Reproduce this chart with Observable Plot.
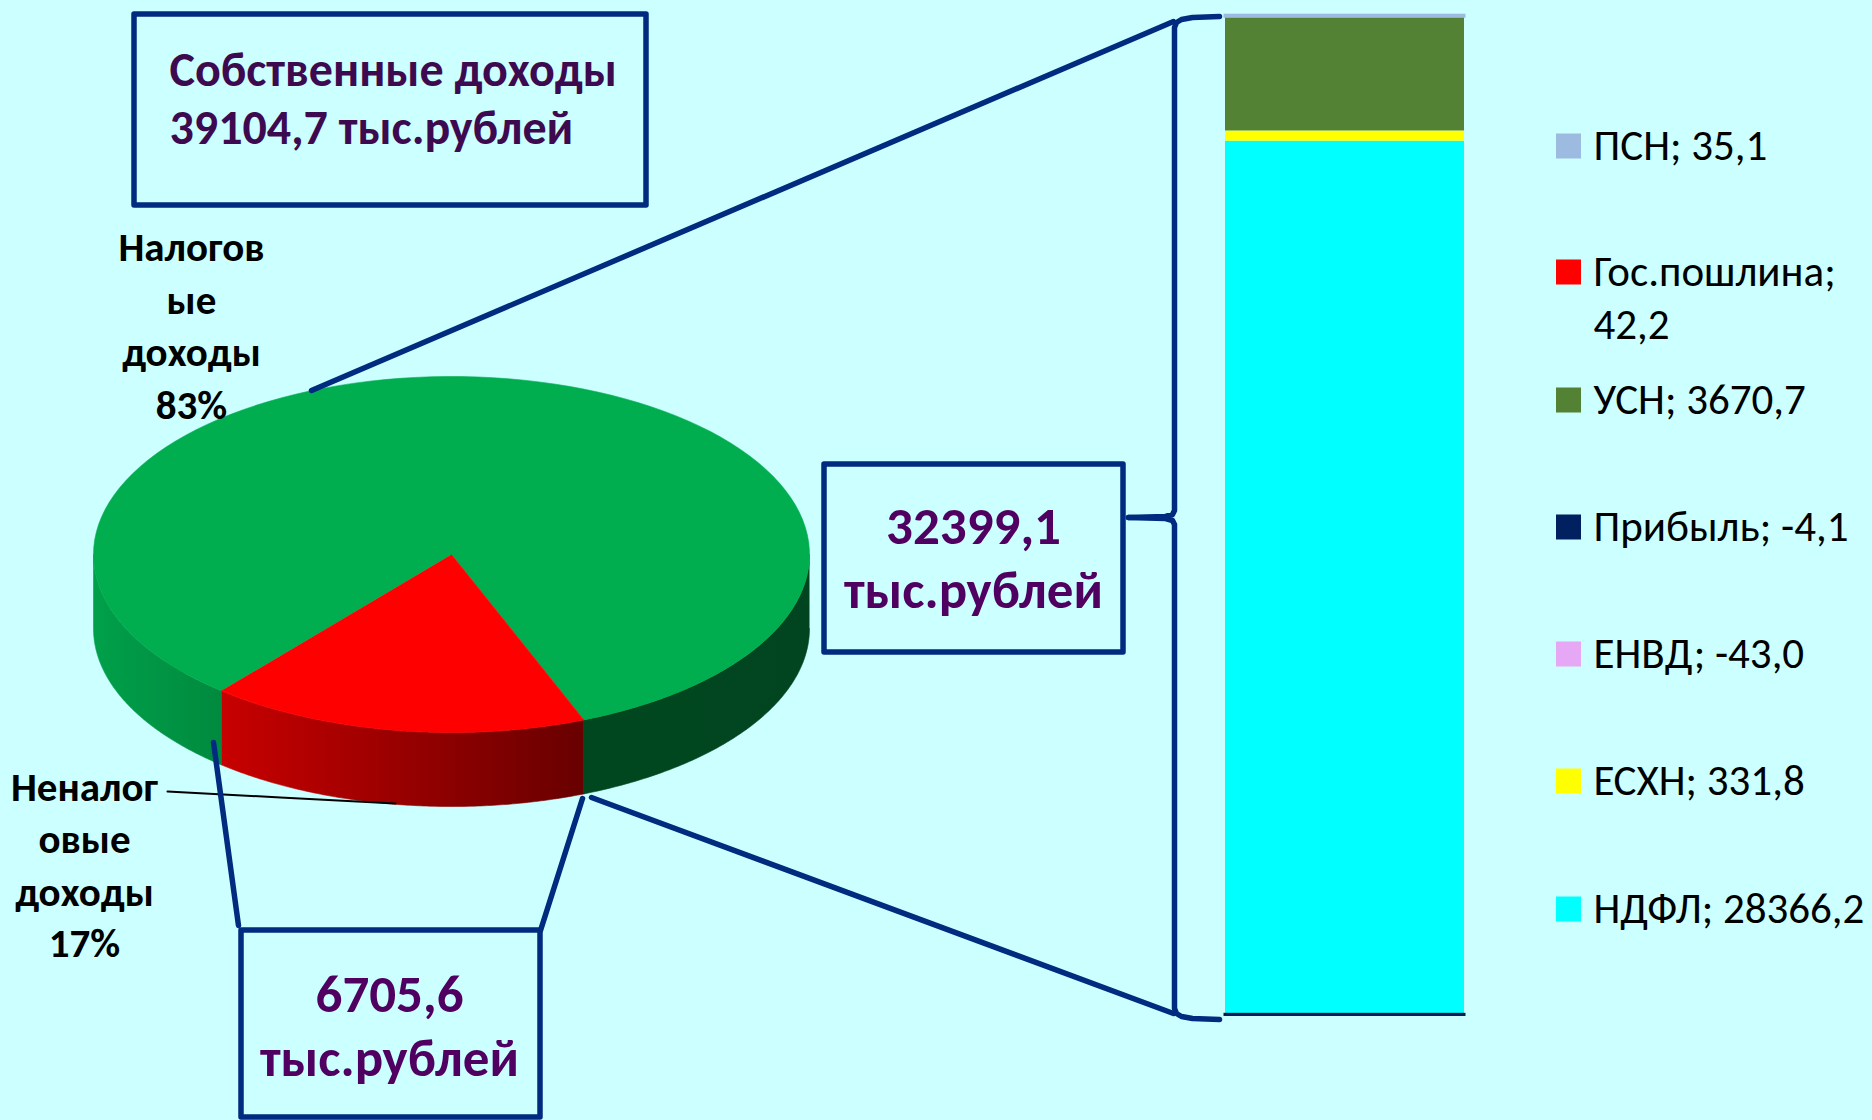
<!DOCTYPE html>
<html lang="ru">
<head>
<meta charset="utf-8">
<script src="https://cdn.jsdelivr.net/npm/d3@7"></script>
<script src="https://cdn.jsdelivr.net/npm/@observablehq/plot@0.6"></script>
<style>
html,body{margin:0;padding:0;background:#ccffff;width:1872px;height:1120px;overflow:hidden}
#chart{position:relative;width:1872px;height:1120px}
#chart svg{position:absolute;left:0;top:0;background:transparent}
</style>
</head>
<body>
<div id="chart"></div>
<script>
// ---------- data ----------
const pieNames = ["Налоговые доходы", "Неналоговые доходы"];
const pieValues = [32399.1, 6705.6];
const taxNames = ["НДФЛ", "ЕСХН", "ЕНВД", "Прибыль", "УСН", "Гос.пошлина", "ПСН"];
const taxValues = [28366.2, 331.8, -43.0, -4.1, 3670.7, 42.2, 35.1];
const taxColors = ["#00ffff", "#ffff00", "#e6a8f5", "#002060", "#548235", "#ff0000", "#9dbbe0"];
const legendNames = ["ПСН", "Гос.пошлина", "УСН", "Прибыль", "ЕНВД", "ЕСХН", "НДФЛ"];
const legendLabels = ["ПСН; 35,1", "Гос.пошлина;", "УСН; 3670,7", "Прибыль; -4,1", "ЕНВД; -43,0", "ЕСХН; 331,8", "НДФЛ; 28366,2"];

// ---------- layout ----------
const FONT = "Carlito, Calibri, Lato, 'Noto Sans', sans-serif";
const NAVY = "#002b7f", TITLE = "#3d0a50", PURPLE = "#4f0060";
const pie = {cx: 451, cy: 554, rx: 358, ry: 178, depth: 74, redStart: 158.3};
const legendY = [146, 272, 400, 527, 654, 781, 909];

// stacked bar, on its own value scale
const taxRows = taxNames.map((name, i) => ({name, value: taxValues[i]}));
const barPlot = Plot.plot({
  width: 1872, height: 1120, margin: 0,
  x: {domain: ["доходы"], range: [1225, 1464], padding: 0, round: false, axis: null},
  y: {domain: [-47.1, 32446], range: [1014.45, 15.2], axis: null},
  color: {domain: taxNames, range: taxColors},
  marks: [
    Plot.barY(taxRows, Plot.stackY({
      x: () => "доходы", y: "value", fill: "name", order: null,
      stroke: d => (d.name === "ПСН" || d.name === "Прибыль") ? (d.name === "ПСН" ? "#9dbbe0" : "#00164f") : "none",
      strokeWidth: 3
    }))
  ]
});

// 3-D pie: angles derive from the values
const total = d3.sum(pieValues);
const redSpan = pieValues[1] / total * 360;
const a1 = pie.redStart, a2 = pie.redStart + redSpan;
const rim = (deg, dy = 0) => {
  const t = deg * Math.PI / 180;
  return {x: pie.cx + pie.rx * Math.sin(t), y: pie.cy - pie.ry * Math.cos(t) + dy};
};
const steps = (from, to) => d3.range(0, 121).map(i => from + (to - from) * i / 120);
const topSlice = (from, to) => [{x: pie.cx, y: pie.cy}, ...steps(from, to).map(d => rim(d))];
const sideSlice = (from, to) => [
  ...steps(from, to).map(d => rim(d)),
  ...steps(to, from).map(d => rim(d, pie.depth))
];
const gradients = () => {
  const defs = d3.create("svg:defs");
  const add = (id, x1, x2, c1, c2) => {
    const g = defs.append("linearGradient").attr("id", id).attr("gradientUnits", "userSpaceOnUse")
      .attr("x1", x1).attr("x2", x2).attr("y1", 0).attr("y2", 0);
    g.append("stop").attr("offset", 0).attr("stop-color", c1);
    g.append("stop").attr("offset", 1).attr("stop-color", c2);
  };
  add("gL", 93, 221, "#00a04a", "#008a3f");
  add("gR", 584, 808, "#00471f", "#00451f");
  add("gM", 221, 584, "#c80000", "#680000");
  return defs.node();
};
const blob = (pts, fill) => Plot.line(pts, {x: "x", y: "y", fill, stroke: fill, strokeWidth: 0.6, curve: "linear"});

// callout lines
const path = (...p) => p.map(([x, y]) => ({x, y}));
const navyLines = [
  path([311, 390], [1173, 21]),
  path([591, 797], [1173, 1013]),
  path([213, 742], [238, 925]),
  path([582, 798], [540, 930]),
  path([1219, 16], [1192, 17], [1181, 19], [1176, 22], [1174, 27], [1174, 510], [1172, 514], [1165, 516], [1128, 517]),
  path([1128, 517], [1165, 518], [1172, 520], [1174, 524], [1174, 1008], [1176, 1013], [1181, 1016], [1192, 1018], [1219, 1019])
];
const boxes = [
  {x1: 134, x2: 646, y1: 14, y2: 205},
  {x1: 824, x2: 1123, y1: 464, y2: 652},
  {x1: 241, x2: 540, y1: 930, y2: 1117}
];
const boldTexts = [
  {x: 191, y: 247, t: "Налогов"}, {x: 191, y: 300, t: "ые"}, {x: 191, y: 352, t: "доходы"}, {x: 191, y: 405, t: "83%"},
  {x: 84, y: 787, t: "Неналог"}, {x: 84, y: 839, t: "овые"}, {x: 84, y: 892, t: "доходы"}, {x: 84, y: 943, t: "17%"}
];
const boxTexts = [
  {x: 973, y: 527, t: "32399,1"}, {x: 973, y: 591, t: "тыс.рублей"},
  {x: 389, y: 995, t: "6705,6"}, {x: 389, y: 1059, t: "тыс.рублей"}
];
const titleTexts = [{x: 169, y: 70, t: "Собственные доходы"}, {x: 169, y: 128, t: "39104,7 тыс.рублей"}];

const legendRows = legendNames.map((n, i) => ({
  n, label: legendLabels[i], y: legendY[i], fill: taxColors[taxNames.indexOf(n)]
}));
const legendExtra = [{label: "42,2", y: 325}];

const overlay = Plot.plot({
  width: 1872, height: 1120, margin: 0,
  x: {domain: [0, 1872], range: [0, 1872], axis: null},
  y: {domain: [0, 1120], range: [0, 1120], axis: null},
  marks: [
    gradients,
    blob(sideSlice(90, a1), "url(#gR)"),
    blob(sideSlice(a1, a2), "url(#gM)"),
    blob(sideSlice(a2, 270), "url(#gL)"),
    blob(topSlice(a2, a1 + 360), "#00ad4f"),
    blob(topSlice(a1, a2), "#ff0000"),
    Plot.line(path([167, 791], [280, 797], [395, 803]), {x: "x", y: "y", stroke: "#000", strokeWidth: 2}),
    ...navyLines.map(l => Plot.line(l, {x: "x", y: "y", stroke: NAVY, strokeWidth: 5.5, strokeLinejoin: "round", curve: "linear"})),
    Plot.rect(boxes, {x1: "x1", x2: "x2", y1: "y1", y2: "y2", fill: "none", stroke: NAVY, strokeWidth: 5.5, strokeLinejoin: "round"}),
    Plot.text(titleTexts, {x: "x", y: "y", text: "t", textAnchor: "start", lineAnchor: "middle", fontSize: 48, fontWeight: 700, fontFamily: FONT, fill: TITLE}),
    Plot.text(boxTexts, {x: "x", y: "y", text: "t", lineAnchor: "middle", fontSize: 53, fontWeight: 700, fontFamily: FONT, fill: PURPLE}),
    Plot.text(boldTexts, {x: "x", y: "y", text: "t", lineAnchor: "middle", fontSize: 41, fontWeight: 700, fontFamily: FONT, fill: "#000"}),
    Plot.rect(legendRows, {x1: () => 1556, x2: () => 1581, y1: d => d.y - 12.5, y2: d => d.y + 12.5, fill: "fill"}),
    Plot.text(legendRows, {x: () => 1593, y: "y", text: "label", textAnchor: "start", lineAnchor: "middle", fontSize: 43, fontFamily: FONT, fill: "#000"}),
    Plot.text(legendExtra, {x: () => 1593, y: "y", text: "label", textAnchor: "start", lineAnchor: "middle", fontSize: 43, fontFamily: FONT, fill: "#000"})
  ]
});

const host = document.getElementById("chart");
host.append(barPlot, overlay);
</script>
</body>
</html>
